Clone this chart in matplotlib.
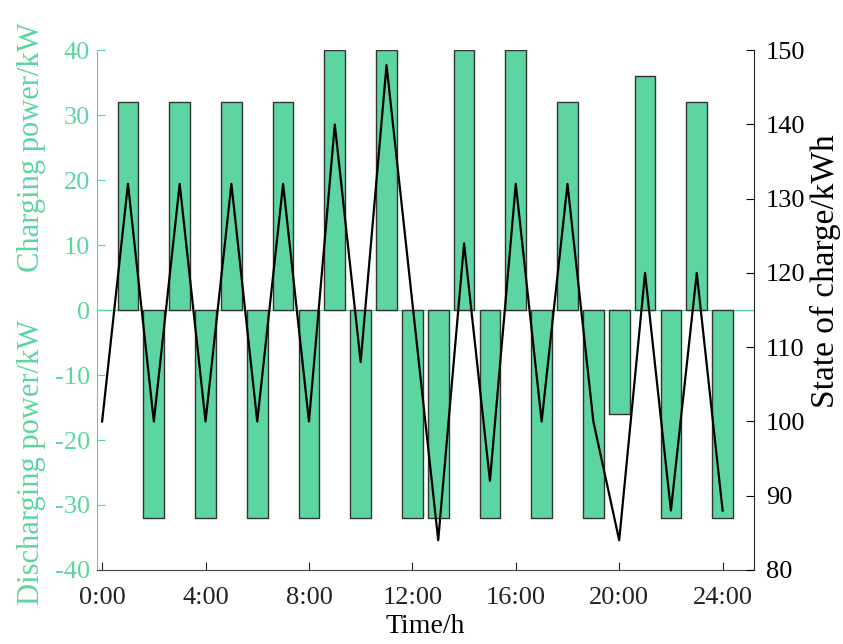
import numpy as np
import matplotlib
matplotlib.use("Agg")
import matplotlib.pyplot as plt

plt.rcParams['font.family'] = ['Liberation Serif', 'DejaVu Serif']
plt.rcParams['axes.unicode_minus'] = False

# Hourly battery power (positive = charging, negative = discharging)
hours = np.arange(1, 25)
power = [32, -32, 32, -32, 32, -32, 32, -32, 40, -32, 40, -32,
         -32, 40, -32, 40, -32, 32, -32, -16, 36, -32, 32, -32]

# State of charge at each hour mark
soc_hours = np.arange(0, 25)
soc = [100, 132, 100, 132, 100, 132, 100, 132, 100, 140, 108, 148, 116,
       84, 124, 92, 132, 100, 132, 100, 84, 120, 88, 120, 88]

xtick_pos = [0, 4, 8, 12, 16, 20, 24]
xtick_labels = ['0:00', '4:00', '8:00', '12:00', '16:00', '20:00', '24:00']

green = '#5dd5a0'

fig = plt.figure(figsize=(8.43, 6.44), dpi=100)
ax = fig.add_axes([0.115, 0.115, 0.779, 0.807])

ax.bar(hours, power, width=0.8, color=green, edgecolor='#333333', linewidth=1.0, zorder=2)
ax.axhline(0, color=green, linewidth=1.0, zorder=1)

ax.set_xlim(-0.2, 25.2)
ax.set_ylim(-40, 40)
ax.set_yticks(np.arange(-40, 41, 10))
ax.set_xticks(xtick_pos)
ax.set_xticklabels(xtick_labels)
ax.tick_params(axis='y', colors=green, direction='in', length=6, labelsize=19, pad=5)
ax.tick_params(axis='x', direction='in', length=6, labelsize=19, colors='#222222', pad=12)
ax.spines['left'].set_color(green)
ax.spines['top'].set_visible(False)
ax.spines['right'].set_visible(False)
ax.spines['bottom'].set_color('#444444')
ax.set_xlabel('Time/h', fontsize=20, labelpad=4)

# split left axis label
ax.text(-0.1, 25, 'Charging power/kW', transform=ax.get_yaxis_transform(),
        rotation=90, ha='center', va='center', color=green, fontsize=22)
ax.text(-0.1, -23.5, 'Discharging power/kW', transform=ax.get_yaxis_transform(),
        rotation=90, ha='center', va='center', color=green, fontsize=22)

ax2 = ax.twinx()
ax2.plot(soc_hours, soc, color='black', linewidth=1.6)
ax2.set_ylim(80, 150)
ax2.set_yticks(np.arange(80, 151, 10))
ax2.tick_params(axis='y', direction='in', length=6, labelsize=19, pad=9)
ax2.spines['top'].set_visible(False)
ax2.spines['left'].set_visible(False)
ax2.spines['bottom'].set_visible(False)
ax2.spines['right'].set_color('#222222')
ax2.text(1.109, 0.575, 'State of charge/kWh', transform=ax2.transAxes,
         rotation=90, ha='center', va='center', fontsize=24)

fig.savefig('out.png', dpi=100)
